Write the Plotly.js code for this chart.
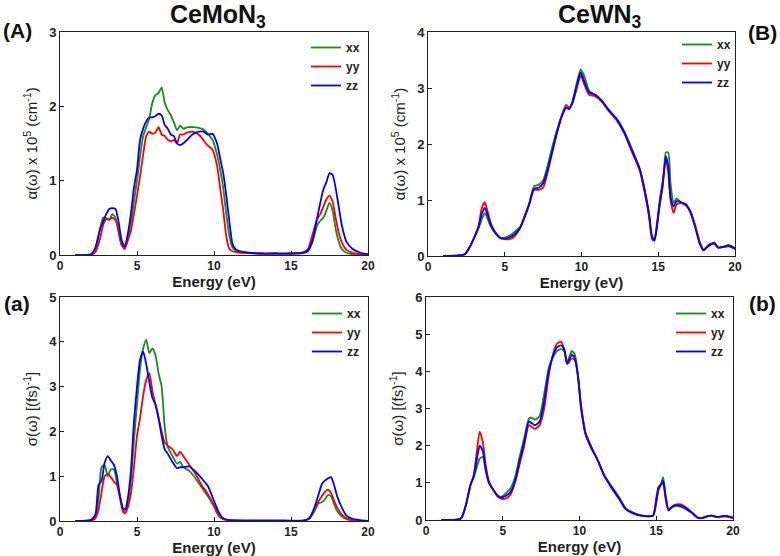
<!DOCTYPE html>
<html>
<head>
<meta charset="utf-8">
<script src="https://cdn.plot.ly/plotly-3.0.1.min.js"></script>
<style>html,body{margin:0;padding:0;background:#fff;}#chart{width:780px;height:556px;}</style>
</head>
<body>
<div id="chart"></div>
<script>
// ---------- Panel (A): absorption CeMoN3 ----------
const energyA = [1, 2, 2.3, 2.6, 2.8, 3.0, 3.2, 3.4, 3.6, 3.8, 4.0, 4.2, 4.4, 4.6, 4.8, 5.0, 5.2, 5.4, 5.6, 5.8, 6.0, 6.2, 6.4, 6.6, 6.8, 7.0, 7.2, 7.4, 7.6, 7.8, 8.0, 8.3, 8.6, 9.0, 9.3, 9.6, 9.9, 10.2, 10.4, 10.6, 10.8, 11.0, 11.2, 11.4, 11.7, 12.0, 13, 14, 15, 15.8, 16.1, 16.4, 16.7, 16.9, 17.1, 17.3, 17.5, 17.7, 17.9, 18.1, 18.3, 18.6, 19.0, 19.5, 20];
const alphaMo_xx = [0, 0.01, 0.08, 0.35, 0.5, 0.5, 0.47, 0.55, 0.5, 0.3, 0.13, 0.1, 0.2, 0.42, 0.72, 1.0, 1.33, 1.6, 1.72, 1.84, 2.05, 2.15, 2.18, 2.25, 2.05, 1.95, 1.88, 1.78, 1.68, 1.74, 1.7, 1.72, 1.72, 1.71, 1.69, 1.63, 1.55, 1.35, 1.15, 0.9, 0.55, 0.25, 0.1, 0.06, 0.04, 0.03, 0.02, 0.02, 0.02, 0.03, 0.05, 0.18, 0.4, 0.46, 0.5, 0.6, 0.7, 0.6, 0.35, 0.18, 0.08, 0.03, 0.01, 0, 0];
const alphaMo_yy = [0, 0, 0.04, 0.22, 0.4, 0.48, 0.48, 0.5, 0.47, 0.35, 0.15, 0.08, 0.2, 0.32, 0.55, 0.8, 1.06, 1.35, 1.6, 1.66, 1.63, 1.65, 1.72, 1.62, 1.6, 1.55, 1.53, 1.55, 1.5, 1.62, 1.62, 1.65, 1.66, 1.62, 1.55, 1.47, 1.42, 1.2, 0.9, 0.6, 0.25, 0.08, 0.05, 0.04, 0.03, 0.03, 0.02, 0.02, 0.02, 0.04, 0.08, 0.28, 0.48, 0.55, 0.65, 0.75, 0.8, 0.72, 0.5, 0.3, 0.17, 0.07, 0.03, 0.01, 0];
const alphaMo_zz = [0, 0.01, 0.1, 0.35, 0.45, 0.55, 0.62, 0.63, 0.62, 0.45, 0.2, 0.11, 0.28, 0.55, 0.9, 1.15, 1.55, 1.7, 1.8, 1.85, 1.85, 1.87, 1.9, 1.88, 1.75, 1.7, 1.62, 1.6, 1.5, 1.48, 1.5, 1.56, 1.62, 1.66, 1.66, 1.62, 1.63, 1.5, 1.3, 1.1, 0.8, 0.45, 0.15, 0.08, 0.05, 0.04, 0.02, 0.02, 0.02, 0.03, 0.06, 0.2, 0.5, 0.7, 0.88, 0.98, 1.1, 1.08, 0.9, 0.65, 0.4, 0.18, 0.08, 0.03, 0.01];

// ---------- Panel (B): absorption CeWN3 ----------
const energyB = [1, 2, 2.4, 2.7, 3.0, 3.3, 3.5, 3.7, 3.9, 4.1, 4.4, 4.7, 5.0, 5.3, 5.6, 6.0, 6.3, 6.6, 6.9, 7.2, 7.5, 7.8, 8.1, 8.4, 8.7, 9.0, 9.2, 9.4, 9.7, 9.95, 10.2, 10.5, 10.9, 11.3, 11.8, 12.3, 12.8, 13.3, 13.8, 14.1, 14.4, 14.6, 14.75, 14.9, 15.1, 15.3, 15.5, 15.65, 15.8, 16.0, 16.2, 16.5, 16.8, 17.1, 17.4, 17.7, 17.95, 18.2, 18.4, 18.65, 18.9, 19.2, 19.6, 20];
const alphaW_xx = [0, 0.01, 0.03, 0.15, 0.32, 0.5, 0.65, 0.77, 0.65, 0.52, 0.4, 0.33, 0.33, 0.36, 0.42, 0.52, 0.72, 0.95, 1.24, 1.27, 1.35, 1.62, 1.95, 2.25, 2.5, 2.65, 2.62, 2.75, 3.1, 3.33, 3.2, 2.95, 2.88, 2.78, 2.6, 2.45, 2.22, 1.9, 1.55, 1.2, 0.75, 0.35, 0.3, 0.5, 0.9, 1.25, 1.85, 1.85, 1.3, 0.95, 1.03, 0.95, 0.93, 0.78, 0.55, 0.25, 0.12, 0.18, 0.22, 0.22, 0.15, 0.16, 0.2, 0.14];
const alphaW_yy = [0, 0.01, 0.03, 0.15, 0.33, 0.55, 0.85, 0.96, 0.78, 0.58, 0.42, 0.33, 0.3, 0.3, 0.34, 0.5, 0.7, 0.92, 1.18, 1.18, 1.22, 1.5, 1.85, 2.2, 2.5, 2.7, 2.65, 2.72, 3.0, 3.22, 3.05, 2.88, 2.85, 2.76, 2.58, 2.42, 2.18, 1.85, 1.52, 1.15, 0.7, 0.3, 0.27, 0.55, 1.0, 1.35, 1.72, 1.5, 1.0, 0.77, 0.92, 0.95, 0.9, 0.8, 0.55, 0.25, 0.1, 0.17, 0.2, 0.22, 0.15, 0.16, 0.17, 0.12];
const alphaW_zz = [0, 0.01, 0.03, 0.15, 0.32, 0.52, 0.75, 0.86, 0.72, 0.55, 0.41, 0.32, 0.31, 0.33, 0.38, 0.5, 0.7, 0.93, 1.2, 1.22, 1.3, 1.55, 1.88, 2.2, 2.48, 2.65, 2.63, 2.73, 3.05, 3.28, 3.1, 2.92, 2.88, 2.78, 2.6, 2.44, 2.2, 1.88, 1.55, 1.2, 0.75, 0.33, 0.28, 0.5, 0.95, 1.3, 1.78, 1.6, 1.05, 0.88, 0.98, 0.96, 0.92, 0.78, 0.52, 0.22, 0.1, 0.16, 0.2, 0.24, 0.15, 0.16, 0.18, 0.13];

// ---------- Panel (a): conductivity CeMoN3 ----------
const energyC = [1, 2, 2.3, 2.5, 2.7, 2.9, 3.1, 3.3, 3.5, 3.7, 3.9, 4.1, 4.25, 4.4, 4.6, 4.8, 5.0, 5.2, 5.4, 5.6, 5.8, 6.0, 6.2, 6.4, 6.6, 6.8, 7.0, 7.3, 7.6, 7.8, 8.0, 8.4, 8.8, 9.2, 9.6, 10.0, 10.3, 10.6, 11, 12, 14, 15.8, 16.2, 16.5, 16.8, 17.0, 17.2, 17.4, 17.6, 17.8, 18.0, 18.3, 18.6, 19.0, 19.5, 20];
const sigmaMo_xx = [0, 0.02, 0.1, 0.5, 1.2, 1.25, 1.0, 1.15, 1.15, 0.85, 0.55, 0.25, 0.22, 0.4, 0.9, 1.8, 2.6, 3.4, 3.85, 4.05, 3.75, 3.85, 3.7, 3.3, 3.0, 2.1, 1.65, 1.45, 1.28, 1.32, 1.2, 1.12, 0.95, 0.75, 0.55, 0.32, 0.12, 0.04, 0.02, 0.01, 0.01, 0.01, 0.05, 0.2, 0.4, 0.42, 0.48, 0.58, 0.55, 0.38, 0.22, 0.1, 0.04, 0.01, 0, 0];
const sigmaMo_yy = [0, 0.01, 0.06, 0.25, 0.65, 1.0, 1.05, 0.98, 0.88, 0.8, 0.5, 0.2, 0.18, 0.3, 0.6, 1.2, 1.9, 2.3, 2.8, 3.15, 3.3, 2.9, 2.6, 2.3, 2.0, 1.75, 1.68, 1.6, 1.45, 1.55, 1.45, 1.25, 1.05, 0.8, 0.6, 0.35, 0.13, 0.04, 0.02, 0.01, 0.01, 0.01, 0.06, 0.25, 0.45, 0.55, 0.65, 0.7, 0.62, 0.45, 0.3, 0.14, 0.06, 0.02, 0, 0];
const sigmaMo_zz = [0, 0.02, 0.15, 0.8, 0.9, 1.3, 1.45, 1.35, 1.25, 1.0, 0.55, 0.28, 0.27, 0.5, 1.1, 2.2, 3.0, 3.6, 3.78, 3.5, 3.1, 2.75, 2.6, 2.3, 1.9, 1.6, 1.5, 1.32, 1.18, 1.2, 1.2, 1.22, 1.1, 0.95, 0.78, 0.45, 0.2, 0.06, 0.02, 0.01, 0.01, 0.01, 0.07, 0.28, 0.6, 0.82, 0.9, 0.95, 0.98, 0.8, 0.55, 0.3, 0.12, 0.05, 0.02, 0];

// ---------- Panel (b): conductivity CeWN3 ----------
const energyD = [1, 2, 2.3, 2.6, 2.9, 3.1, 3.3, 3.5, 3.7, 3.9, 4.1, 4.4, 4.7, 4.9, 5.2, 5.5, 5.8, 6.1, 6.4, 6.7, 6.9, 7.1, 7.4, 7.7, 8.0, 8.3, 8.55, 8.8, 9.0, 9.2, 9.5, 9.7, 9.9, 10.1, 10.4, 10.8, 11.2, 11.6, 12.1, 12.6, 13.0, 13.5, 14.0, 14.5, 14.8, 15.0, 15.15, 15.3, 15.45, 15.6, 15.8, 16.0, 16.3, 16.6, 16.9, 17.3, 17.7, 18.0, 18.3, 18.6, 19.0, 19.3, 19.6, 20];
const sigmaW_xx = [0, 0.01, 0.05, 0.4, 0.95, 1.15, 1.4, 1.65, 1.7, 1.3, 1.0, 0.8, 0.65, 0.62, 0.72, 0.85, 1.15, 1.7, 2.2, 2.72, 2.75, 2.7, 2.8, 3.4, 4.1, 4.4, 4.55, 4.6, 4.55, 4.25, 4.55, 4.45, 3.9, 3.0, 2.3, 1.9, 1.6, 1.22, 0.9, 0.6, 0.32, 0.2, 0.13, 0.1, 0.12, 0.45, 0.8, 0.95, 1.15, 0.7, 0.28, 0.33, 0.38, 0.35, 0.3, 0.2, 0.06, 0.06, 0.1, 0.12, 0.08, 0.1, 0.1, 0.06];
const sigmaW_yy = [0, 0.01, 0.05, 0.4, 0.95, 1.2, 1.8, 2.38, 2.1, 1.45, 1.05, 0.8, 0.62, 0.57, 0.58, 0.68, 1.0, 1.5, 2.0, 2.55, 2.5, 2.45, 2.55, 3.0, 3.9, 4.5, 4.75, 4.8, 4.6, 4.2, 4.35, 4.3, 3.9, 3.1, 2.35, 1.95, 1.6, 1.2, 0.85, 0.55, 0.3, 0.18, 0.12, 0.1, 0.12, 0.6, 0.9, 0.95, 0.98, 0.6, 0.25, 0.35, 0.42, 0.42, 0.35, 0.22, 0.07, 0.05, 0.1, 0.12, 0.08, 0.1, 0.09, 0.05];
const sigmaW_zz = [0, 0.01, 0.05, 0.4, 0.95, 1.15, 1.6, 2.0, 1.85, 1.35, 1.0, 0.8, 0.63, 0.6, 0.65, 0.75, 1.05, 1.6, 2.1, 2.65, 2.6, 2.55, 2.65, 3.2, 4.0, 4.45, 4.65, 4.7, 4.6, 4.2, 4.45, 4.35, 3.85, 3.05, 2.3, 1.92, 1.6, 1.2, 0.88, 0.57, 0.3, 0.18, 0.12, 0.1, 0.12, 0.5, 0.85, 0.95, 1.05, 0.65, 0.27, 0.35, 0.4, 0.38, 0.32, 0.2, 0.06, 0.05, 0.1, 0.12, 0.08, 0.1, 0.11, 0.06];

const seriesNames = ['xx', 'yy', 'zz'];
const seriesColors = ['#1a8a1a', '#ff0000', '#0000ff'];
const panelLabels = ['(A)', '(B)', '(a)', '(b)'];
const materialTitles = ['CeMoN<sub>3</sub>', 'CeWN<sub>3</sub>'];
const xTitle = 'Energy (eV)';
const yTitleAlpha = '\u03B1(\u03C9) x 10<sup>5</sup> (cm<sup>-1</sup>)';
const yTitleSigma = '\u03C3(\u03C9) [(fs)<sup>-1</sup>]';
const xTicks = [0, 5, 10, 15, 20];

const W = 780, H = 556;
const panels = [
  {E: energyA, ys: [alphaMo_xx, alphaMo_yy, alphaMo_zz], ax: '', ymax: 3, ytitle: yTitleAlpha,
   px: [60, 368], py: [32, 255], leg: [306, 33]},
  {E: energyB, ys: [alphaW_xx, alphaW_yy, alphaW_zz], ax: '2', ymax: 4, ytitle: yTitleAlpha,
   px: [428, 735], py: [32, 256], leg: [677, 30]},
  {E: energyC, ys: [sigmaMo_xx, sigmaMo_yy, sigmaMo_zz], ax: '3', ymax: 5, ytitle: yTitleSigma,
   px: [60, 368], py: [297, 521], leg: [307, 299]},
  {E: energyD, ys: [sigmaW_xx, sigmaW_yy, sigmaW_zz], ax: '4', ymax: 6, ytitle: yTitleSigma,
   px: [426, 733], py: [297, 520], leg: [671, 299]}
];

const FONT = 'Liberation Sans, Arial, sans-serif';
const traces = [];
const layout = {
  width: W, height: H, margin: {l: 0, r: 0, t: 0, b: 0},
  paper_bgcolor: '#fff', plot_bgcolor: '#fff', showlegend: true,
  font: {family: FONT, color: '#111'},
  annotations: []
};

panels.forEach((p, i) => {
  const legName = i === 0 ? 'legend' : 'legend' + (i + 1);
  p.ys.forEach((y, k) => {
    traces.push({
      x: p.E, y: y, type: 'scatter', mode: 'lines', name: seriesNames[k],
      xaxis: 'x' + p.ax, yaxis: 'y' + p.ax, legend: legName,
      line: {color: seriesColors[k], width: 1.8, shape: 'spline', smoothing: 0.6}
    });
  });
  const xa = {
    domain: [p.px[0] / W, p.px[1] / W], range: [0, 20], tickvals: xTicks,
    anchor: 'y' + p.ax, showline: true, mirror: true, linecolor: '#222', linewidth: 1,
    ticks: 'inside', ticklen: 4, tickcolor: '#222', showgrid: false, zeroline: false,
    tickfont: {family: FONT, size: 12, weight: 'bold', color: '#222'},
    title: {text: xTitle, font: {family: FONT, size: 15, weight: 'bold', color: '#222'}, standoff: 2}
  };
  const yvals = [];
  for (let v = 0; v <= p.ymax; v++) yvals.push(v);
  const ya = {
    domain: [1 - p.py[1] / H, 1 - p.py[0] / H], range: [0, p.ymax], tickvals: yvals,
    anchor: 'x' + p.ax, showline: true, mirror: true, linecolor: '#222', linewidth: 1,
    ticks: 'inside', ticklen: 4, tickcolor: '#222', showgrid: false, zeroline: false,
    tickfont: {family: FONT, size: 13, weight: 'bold', color: '#222'},
    title: {text: p.ytitle, font: {family: FONT, size: 15, color: '#222'}, standoff: 7}
  };
  layout['xaxis' + p.ax] = xa;
  layout['yaxis' + p.ax] = ya;
  layout[legName] = {
    x: p.leg[0] / W, y: 1 - p.leg[1] / H, xanchor: 'left', yanchor: 'top',
    bgcolor: 'rgba(0,0,0,0)', borderwidth: 0, tracegroupgap: 0,
    font: {family: FONT, size: 12, weight: 'bold', color: '#222'}
  };
});

// material titles
[[218, 16, 0], [600, 16, 1]].forEach(a => {
  layout.annotations.push({
    text: materialTitles[a[2]], x: a[0] / W, y: 1 - a[1] / H, xref: 'paper', yref: 'paper',
    showarrow: false, xanchor: 'center', yanchor: 'middle',
    font: {family: FONT, size: 25, weight: 'bold', color: '#111'}
  });
});
// panel labels
[[17, 31], [762, 33], [17, 303], [762, 303]].forEach((a, i) => {
  layout.annotations.push({
    text: panelLabels[i], x: a[0] / W, y: 1 - a[1] / H, xref: 'paper', yref: 'paper',
    showarrow: false, xanchor: 'center', yanchor: 'middle',
    font: {family: FONT, size: 21, weight: 'bold', color: '#111'}
  });
});

Plotly.newPlot('chart', traces, layout, {staticPlot: true, displayModeBar: false});
</script>
</body>
</html>
